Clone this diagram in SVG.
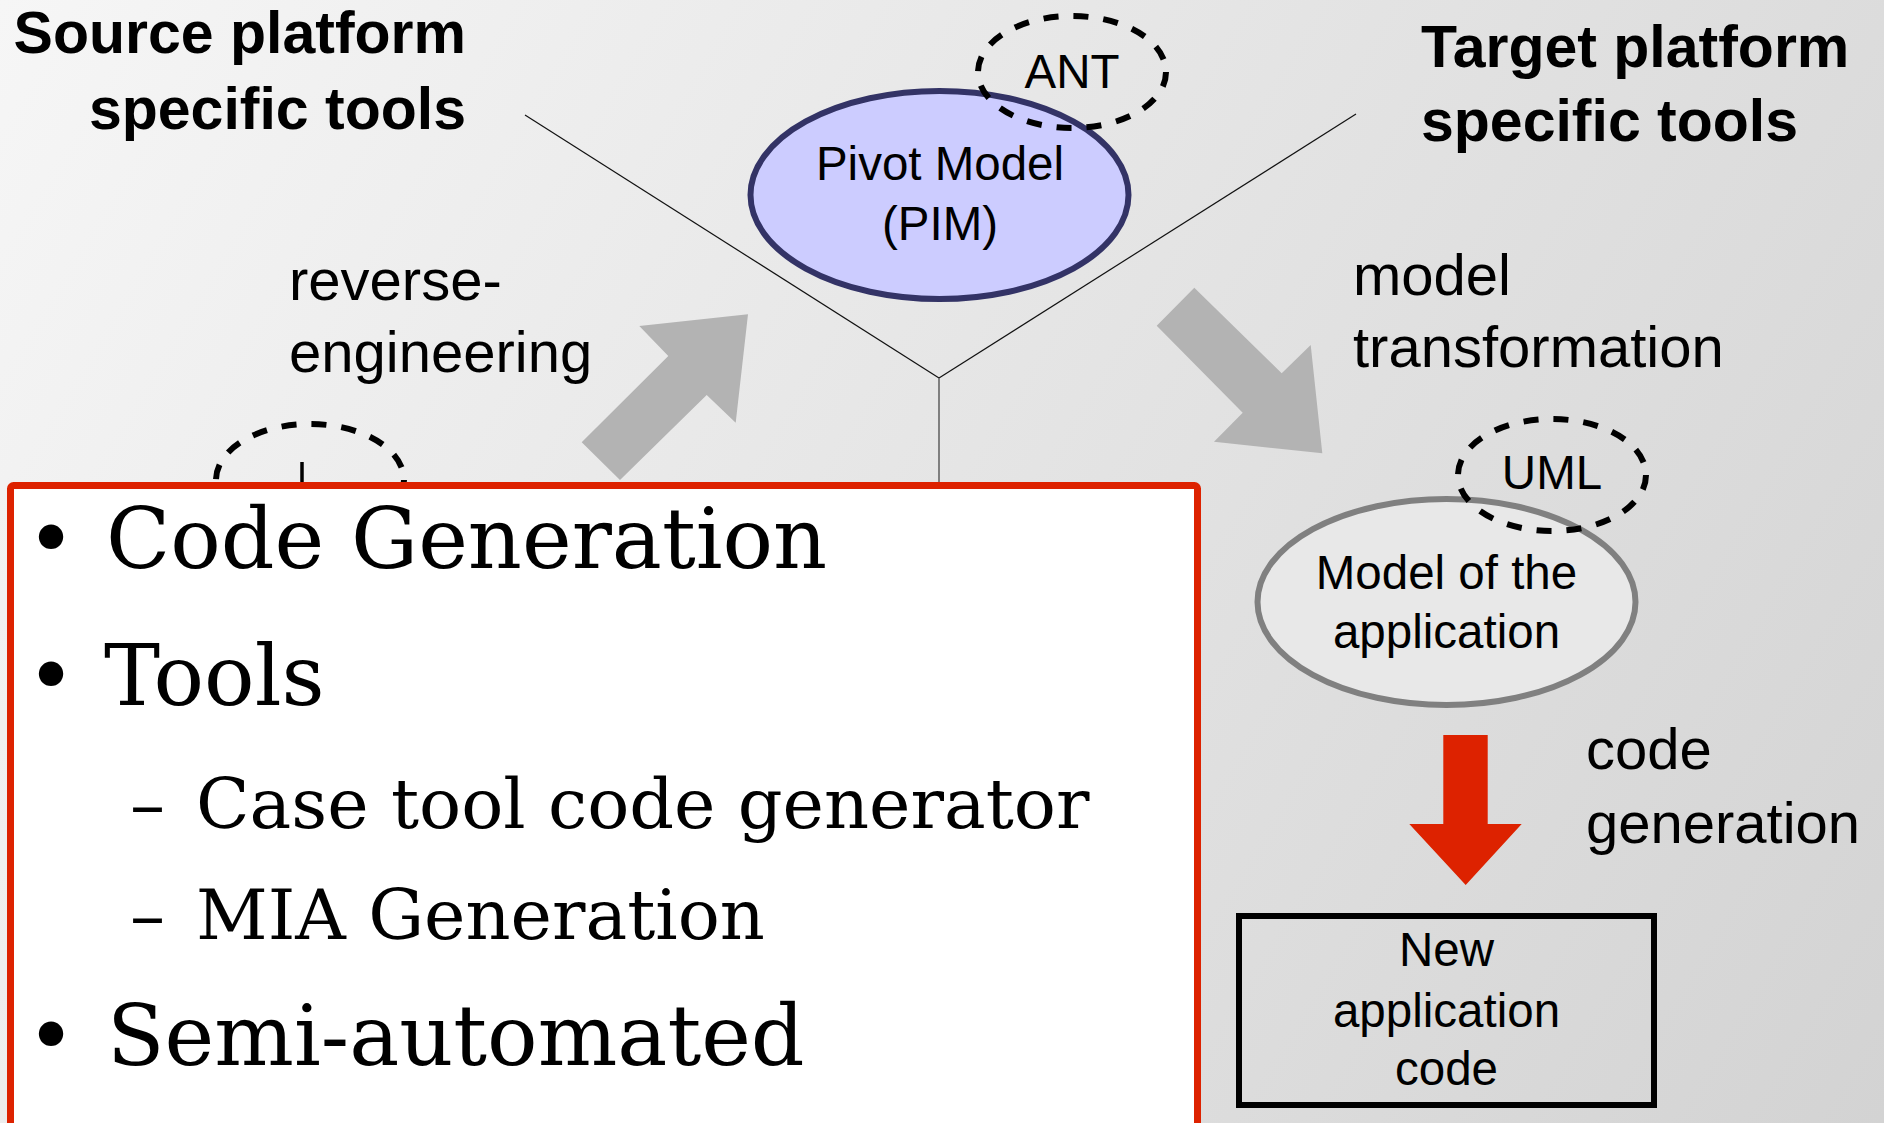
<svg xmlns="http://www.w3.org/2000/svg" width="1884" height="1123" viewBox="0 0 1884 1123">
  <defs>
    <linearGradient id="bg" x1="0" y1="0" x2="1884" y2="1123" gradientUnits="userSpaceOnUse">
      <stop offset="0" stop-color="#f6f6f6"/>
      <stop offset="1" stop-color="#d3d3d3"/>
    </linearGradient>
    <style>
      .head { font-family: "Liberation Sans", Arial, sans-serif; font-weight: bold; font-size: 59px; fill: #000; }
      .lbl { font-family: "Liberation Sans", Arial, sans-serif; font-size: 58px; fill: #000; }
      .ntxt { font-family: "Liberation Sans", Arial, sans-serif; font-size: 47.5px; fill: #000; text-anchor: middle; }
      .tag { fill: none; stroke: #000; stroke-width: 6; stroke-dasharray: 15 15; }
      .grey-arrow { fill: #b3b3b3; }
      .serif1 { font-family: "DejaVu Serif", serif; font-size: 84px; fill: #000; }
      .serif2 { font-family: "DejaVu Serif", serif; font-size: 70px; fill: #000; }
    </style>
  </defs>

  <!-- background -->
  <rect x="0" y="0" width="1884" height="1123" fill="url(#bg)"/>

  <!-- headings -->
  <g id="source-heading">
    <text class="head" x="466" y="53" text-anchor="end" font-size="58">Source platform</text>
    <text class="head" x="466" y="129" text-anchor="end" font-size="58">specific tools</text>
  </g>
  <g id="target-heading">
    <text class="head" x="1421" y="67">Target platform</text>
    <text class="head" x="1421" y="141">specific tools</text>
  </g>

  <!-- connectors -->
  <g id="connectors">
    <line x1="525" y1="115" x2="939" y2="378" stroke="#111" stroke-width="1.2"/>
    <line x1="1356" y1="114" x2="939" y2="378" stroke="#111" stroke-width="1.2"/>
    <line x1="939" y1="378" x2="939" y2="482" stroke="#666" stroke-width="1.6"/>
    <polygon class="grey-arrow" points="581.7,442.3 620,480 706.7,395 735.7,422.7 748,314.3 639.3,326 668.3,356"/>
    <polygon class="grey-arrow" points="1156.7,325.7 1194.3,287.7 1281.7,373.3 1310.7,345 1322.3,453.3 1214,441.7 1242.7,412.7"/>
    <polygon fill="#dd2200" points="1443.3,735 1487.7,735 1487.7,824 1521.7,824 1465.7,885 1409.3,824 1443.3,824"/>
  </g>

  <!-- arrow labels -->
  <g id="label-reverse">
    <text class="lbl" x="289" y="300">reverse-</text>
    <text class="lbl" x="289" y="372">engineering</text>
  </g>
  <g id="label-transform">
    <text class="lbl" x="1353" y="295">model</text>
    <text class="lbl" x="1353" y="367">transformation</text>
  </g>
  <g id="label-codegen">
    <text class="lbl" x="1586" y="769">code</text>
    <text class="lbl" x="1586" y="843">generation</text>
  </g>

  <!-- pivot model -->
  <g id="pivot-model">
    <ellipse cx="939.5" cy="195" rx="189" ry="104" fill="#ccccff" stroke="#333366" stroke-width="6"/>
    <text class="ntxt" x="940" y="180">Pivot Model</text>
    <text class="ntxt" x="940" y="240">(PIM)</text>
  </g>
  <g id="tag-ant">
    <ellipse class="tag" cx="1072" cy="72" rx="94" ry="56"/>
    <text class="ntxt" x="1072" y="88">ANT</text>
  </g>

  <!-- source side tag, mostly under the panel -->
  <g id="tag-source">
    <ellipse class="tag" cx="310" cy="480" rx="94" ry="56"/>
    <line x1="302" y1="462" x2="302" y2="482" stroke="#000" stroke-width="3.5"/>
  </g>

  <!-- application model -->
  <g id="app-model">
    <ellipse cx="1446.5" cy="602" rx="189" ry="103" fill="#e8e8e8" stroke="#808080" stroke-width="6"/>
    <text class="ntxt" x="1446.5" y="589">Model of the</text>
    <text class="ntxt" x="1446.5" y="648">application</text>
  </g>
  <g id="tag-uml">
    <ellipse class="tag" cx="1552" cy="475" rx="94" ry="56"/>
    <text class="ntxt" x="1552" y="489">UML</text>
  </g>

  <!-- generated code -->
  <g id="new-code">
    <rect x="1239" y="916" width="415" height="189" fill="none" stroke="#000" stroke-width="6"/>
    <text class="ntxt" x="1446.5" y="966">New</text>
    <text class="ntxt" x="1446.5" y="1027">application</text>
    <text class="ntxt" x="1446.5" y="1085">code</text>
  </g>

  <!-- bullet panel -->
  <g id="panel">
    <rect x="10.5" y="485.5" width="1187" height="660" rx="3" fill="#ffffff" stroke="#dd2200" stroke-width="7"/>
    <text class="serif1" x="51" y="568" text-anchor="middle">•</text>
    <text class="serif1" x="106" y="568">Code Generation</text>
    <text class="serif1" x="51" y="705" text-anchor="middle">•</text>
    <text class="serif1" x="104" y="705">Tools</text>
    <text class="serif2" x="130" y="828">–</text>
    <text class="serif2" x="196" y="828">Case tool code generator</text>
    <text class="serif2" x="130" y="939">–</text>
    <text class="serif2" x="196" y="939">MIA Generation</text>
    <text class="serif1" x="51" y="1065" text-anchor="middle">•</text>
    <text class="serif1" x="107" y="1065">Semi-automated</text>
  </g>
</svg>
